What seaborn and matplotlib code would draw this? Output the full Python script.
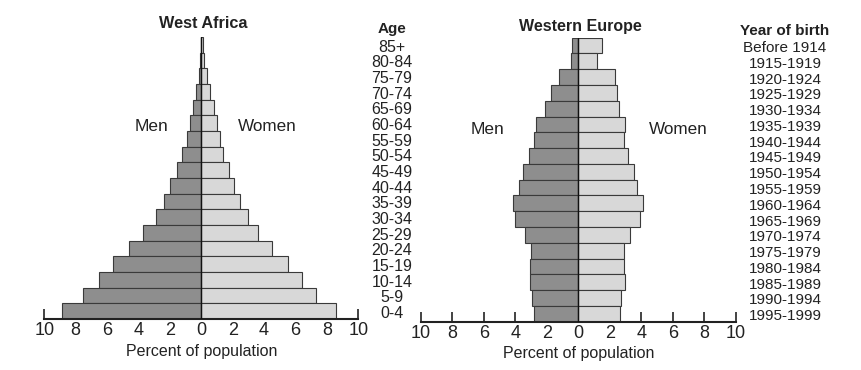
import matplotlib
matplotlib.use('Agg')
import matplotlib.pyplot as plt
import seaborn as sns
import pandas as pd

# 연령대 (위에서 아래 순서)
ages = ['85+', '80-84', '75-79', '70-74', '65-69', '60-64', '55-59', '50-54', '45-49',
        '40-44', '35-39', '30-34', '25-29', '20-24', '15-19', '10-14', '5-9', '0-4']
birth_years = ['Before 1914', '1915-1919', '1920-1924', '1925-1929', '1930-1934', '1935-1939',
               '1940-1944', '1945-1949', '1950-1954', '1955-1959', '1960-1964', '1965-1969',
               '1970-1974', '1975-1979', '1980-1984', '1985-1989', '1990-1994', '1995-1999']

# West Africa (percent of population)
wa_men = [0.04, 0.08, 0.15, 0.32, 0.53, 0.74, 0.93, 1.25, 1.57,
          1.97, 2.38, 2.89, 3.72, 4.61, 5.63, 6.52, 7.54, 8.85]
wa_women = [0.10, 0.19, 0.38, 0.57, 0.79, 0.98, 1.17, 1.38, 1.76,
            2.06, 2.46, 2.95, 3.63, 4.52, 5.54, 6.43, 7.32, 8.60]

# Western Europe (percent of population)
we_men = [0.40, 0.45, 1.21, 1.72, 2.14, 2.71, 2.82, 3.11, 3.50,
          3.79, 4.17, 4.05, 3.37, 2.99, 3.07, 3.09, 2.92, 2.82]
we_women = [1.53, 1.17, 2.33, 2.48, 2.56, 2.99, 2.92, 3.18, 3.56,
            3.75, 4.09, 3.90, 3.28, 2.88, 2.92, 2.94, 2.73, 2.65]

MEN_COLOR = '#8e8e8e'
WOMEN_COLOR = '#d8d8d8'
EDGE = '#3a3a3a'
TEXT = '#222222'

sns.set_style('white')
plt.rcParams['font.family'] = ['Liberation Sans', 'DejaVu Sans']

W, H = 861, 370
fig = plt.figure(figsize=(W / 100, H / 100), dpi=100)


def px_axes(x0, x1, y_top, y_bottom):
    # 픽셀 좌표 -> figure 좌표
    return fig.add_axes([x0 / W, 1 - y_bottom / H, (x1 - x0) / W, (y_bottom - y_top) / H])


def draw_pyramid(ax, cats, men, women):
    df = pd.DataFrame({'cat': cats, 'men': [-v for v in men], 'women': women})
    sns.barplot(data=df, x='men', y='cat', order=cats, orient='h', color=MEN_COLOR,
                edgecolor=EDGE, linewidth=0.8, width=1, saturation=1, ax=ax)
    sns.barplot(data=df, x='women', y='cat', order=cats, orient='h', color=WOMEN_COLOR,
                edgecolor=EDGE, linewidth=0.8, width=1, saturation=1, ax=ax)
    ax.axvline(0, color='#111111', lw=1.0, zorder=5)
    ax.set_xlim(-10, 10)
    ax.set_ylim(len(cats) - 0.5, -0.5)
    ax.set_yticks([])
    ax.set_ylabel('')
    ax.set_xticks(range(-10, 11, 2))
    ax.set_xticklabels([str(abs(t)) for t in range(-10, 11, 2)])
    ax.tick_params(axis='x', direction='in', length=7, width=1.2, color=TEXT,
                   labelsize=13, labelcolor=TEXT, pad=2.5, bottom=True)
    ax.set_xlabel('Percent of population', fontsize=11.5, color=TEXT, labelpad=3)
    for s in ['top', 'left', 'right']:
        ax.spines[s].set_visible(False)
    ax.spines['bottom'].set_color(TEXT)
    ax.spines['bottom'].set_linewidth(1.5)
    ax.patch.set_alpha(0)


# 왼쪽: West Africa
ax1 = px_axes(44.3, 358.3, 37, 319)
draw_pyramid(ax1, ages, wa_men, wa_women)
for i, lab in enumerate(ages):
    ax1.text(1.107, i + 0.15, lab, transform=ax1.get_yaxis_transform(), ha='center',
             va='center', fontsize=11.5, color=TEXT)

# 오른쪽: Western Europe
ax2 = px_axes(421, 735.7, 37.7, 321.7)
draw_pyramid(ax2, birth_years, we_men, we_women)
for i, lab in enumerate(birth_years):
    ax2.text(1.157, i + 0.15, lab, transform=ax2.get_yaxis_transform(), ha='center',
             va='center', fontsize=11, color=TEXT)


def ftext(x, y, s, **kw):
    fig.text(x / W, 1 - y / H, s, ha='center', va='center', color=TEXT, **kw)


ftext(203, 24, 'West Africa', fontsize=11.7, fontweight='bold')
ftext(392, 29, 'Age', fontsize=11, fontweight='bold')
ftext(152, 126, 'Men', fontsize=12.5)
ftext(267, 126, 'Women', fontsize=12.3)

ftext(580, 27, 'Western Europe', fontsize=11.5, fontweight='bold')
ftext(785, 31, 'Year of birth', fontsize=11, fontweight='bold')
ftext(488, 129, 'Men', fontsize=12.5)
ftext(678, 129, 'Women', fontsize=12.3)

fig.savefig('out.png', dpi=100)
